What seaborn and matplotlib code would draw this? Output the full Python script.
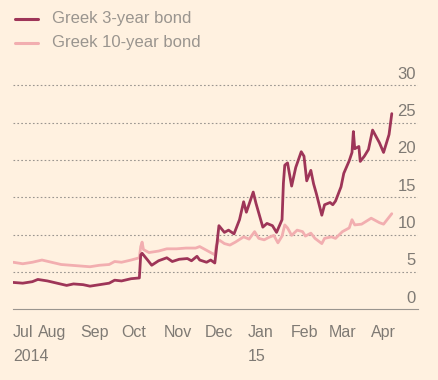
import matplotlib
matplotlib.use("Agg")
import matplotlib.pyplot as plt
import matplotlib.transforms as mtransforms
import pandas as pd
import seaborn as sns

# Greek 3-year bond yield (%)
dates_3y = ["2014-07-14", "2014-07-21", "2014-07-28", "2014-08-01", "2014-08-08", "2014-08-15",
            "2014-08-22", "2014-08-27", "2014-09-03", "2014-09-08", "2014-09-15", "2014-09-22",
            "2014-09-26", "2014-10-01", "2014-10-08", "2014-10-14", "2014-10-15", "2014-10-16",
            "2014-10-20", "2014-10-23", "2014-10-28", "2014-11-03", "2014-11-07", "2014-11-12",
            "2014-11-18", "2014-11-21", "2014-11-25", "2014-11-27", "2014-12-02", "2014-12-05",
            "2014-12-08", "2014-12-09", "2014-12-11", "2014-12-15", "2014-12-18", "2014-12-22",
            "2014-12-26", "2014-12-29", "2014-12-31", "2015-01-05", "2015-01-07", "2015-01-12",
            "2015-01-15", "2015-01-19", "2015-01-22", "2015-01-26", "2015-01-27", "2015-01-28",
            "2015-01-30", "2015-02-02", "2015-02-05", "2015-02-09", "2015-02-11", "2015-02-13",
            "2015-02-16", "2015-02-18", "2015-02-20", "2015-02-24", "2015-02-26", "2015-03-02",
            "2015-03-04", "2015-03-06", "2015-03-10", "2015-03-12", "2015-03-16", "2015-03-18",
            "2015-03-19", "2015-03-20", "2015-03-23", "2015-03-24", "2015-03-27", "2015-03-30",
            "2015-04-02", "2015-04-07", "2015-04-10", "2015-04-14", "2015-04-16"]
yield_3y = [3.6, 3.5, 3.7, 4.0, 3.8, 3.5,
            3.2, 3.4, 3.3, 3.1, 3.3, 3.5,
            3.9, 3.8, 4.1, 4.2, 7.3, 7.5,
            6.6, 5.9, 6.5, 6.9, 6.4, 6.7,
            6.8, 6.5, 7.1, 6.6, 6.3, 6.6,
            6.2, 7.8, 11.2, 10.3, 10.6, 10.1,
            12.0, 14.4, 13.0, 15.7, 14.2, 11.0,
            11.5, 11.2, 10.3, 12.0, 16.9, 19.3,
            19.6, 16.5, 19.0, 21.1, 20.5, 17.2,
            18.6, 16.8, 15.5, 12.6, 14.0, 14.3,
            14.0, 14.5, 16.4, 18.2, 19.9, 21.0,
            23.8, 21.5, 21.8, 19.8, 20.5, 21.4,
            24.0, 22.3, 21.0, 23.4, 26.2]

# Greek 10-year bond yield (%)
dates_10y = ["2014-07-14", "2014-07-21", "2014-07-28", "2014-08-04", "2014-08-11", "2014-08-18",
             "2014-08-25", "2014-09-01", "2014-09-08", "2014-09-15", "2014-09-22", "2014-09-26",
             "2014-10-01", "2014-10-08", "2014-10-14", "2014-10-15", "2014-10-16", "2014-10-17",
             "2014-10-21", "2014-10-28", "2014-11-03", "2014-11-10", "2014-11-17", "2014-11-24",
             "2014-11-27", "2014-12-02", "2014-12-08", "2014-12-09", "2014-12-11", "2014-12-15",
             "2014-12-19", "2014-12-23", "2014-12-29", "2015-01-02", "2015-01-06", "2015-01-09",
             "2015-01-13", "2015-01-16", "2015-01-20", "2015-01-23", "2015-01-26", "2015-01-28",
             "2015-01-30", "2015-02-02", "2015-02-06", "2015-02-10", "2015-02-12", "2015-02-16",
             "2015-02-19", "2015-02-24", "2015-02-26", "2015-03-03", "2015-03-06", "2015-03-11",
             "2015-03-16", "2015-03-18", "2015-03-20", "2015-03-25", "2015-04-01", "2015-04-07",
             "2015-04-10", "2015-04-16"]
yield_10y = [6.3, 6.1, 6.3, 6.6, 6.3, 6.0,
             5.9, 5.8, 5.7, 5.9, 6.0, 6.4,
             6.3, 6.6, 6.9, 8.4, 9.0, 8.0,
             7.6, 7.8, 8.1, 8.1, 8.2, 8.2,
             8.4, 7.9, 7.3, 8.5, 9.3, 8.8,
             8.6, 9.0, 9.7, 9.4, 10.4, 9.5,
             9.3, 9.6, 9.9, 8.9, 9.8, 11.3,
             10.9, 9.9, 10.6, 10.4, 9.8, 10.2,
             9.5, 8.8, 9.5, 9.7, 9.5, 10.4,
             10.9, 12.0, 11.3, 11.4, 12.2, 11.6,
             11.4, 12.8]

tick_dates = ["2014-07-14", "2014-08-01", "2014-09-01", "2014-10-01", "2014-11-01", "2014-12-01",
              "2015-01-01", "2015-02-01", "2015-03-01", "2015-04-01"]
tick_labels = ["Jul", "Aug", "Sep", "Oct", "Nov", "Dec", "Jan", "Feb", "Mar", "Apr"]
year_dates = ["2014-07-14", "2015-01-01"]
year_labels = ["2014", "15"]
y_ticks = [0, 5, 10, 15, 20, 25, 30]

bg = "#fff1e0"
dark = "#9e3558"
light = "#f2aeb0"
grey = "#7f7a74"

df3 = pd.DataFrame({"date": pd.to_datetime(dates_3y), "value": yield_3y})
df10 = pd.DataFrame({"date": pd.to_datetime(dates_10y), "value": yield_10y})

sns.set_style("white")
plt.rcParams["font.family"] = ["Liberation Sans Narrow", "Liberation Sans", "DejaVu Sans"]

fig = plt.figure(figsize=(4.38, 3.8), dpi=100, facecolor=bg)
ax = fig.add_axes([0.030, 0.186, 0.924, 0.629], facecolor=bg)

sns.lineplot(data=df10, x="date", y="value", color=light, linewidth=2, ax=ax)
sns.lineplot(data=df3, x="date", y="value", color=dark, linewidth=2, ax=ax)

ax.set_xlim(pd.Timestamp("2014-07-14"), pd.Timestamp("2015-05-05"))
ax.set_ylim(0, 32)

# dotted gridlines with labels sitting above them
for v in y_ticks[1:]:
    ax.axhline(v, color="#9a958f", linestyle=(0, (1.5, 2)), linewidth=0.8, zorder=0)
trans = mtransforms.blended_transform_factory(ax.transAxes, ax.transData)
for v in y_ticks:
    ax.text(0.995, v + 0.5, str(v), transform=trans, ha="right", va="bottom",
            fontsize=12, color=grey)

ax.set_yticks([])
ax.set_xticks(pd.to_datetime(tick_dates))
ax.set_xticklabels(tick_labels, ha="left", fontsize=11.5, color=grey)
ax.tick_params(axis="x", direction="out", length=5, width=0.8, color="#9a958f", pad=6)
ax.set_xlabel("")
ax.set_ylabel("")

# year line under the month labels
xtrans = mtransforms.blended_transform_factory(ax.transData, ax.transAxes)
for d, lab in zip(pd.to_datetime(year_dates), year_labels):
    ax.text(d, -0.197, lab, transform=xtrans, ha="left", va="center",
            fontsize=11.5, color=grey, clip_on=False)

for s in ["top", "right", "left"]:
    ax.spines[s].set_visible(False)
ax.spines["bottom"].set_color("#9a958f")
ax.spines["bottom"].set_linewidth(0.8)

# legend drawn in figure pixels
fig.lines.append(plt.Line2D([15 / 438, 38 / 438], [1 - 19 / 380, 1 - 19 / 380],
                            color=dark, linewidth=2.2, transform=fig.transFigure))
fig.lines.append(plt.Line2D([15 / 438, 38 / 438], [1 - 43 / 380, 1 - 43 / 380],
                            color=light, linewidth=2.2, transform=fig.transFigure))
fig.text(52 / 438, 1 - 19 / 380, "Greek 3-year bond", va="center", ha="left",
         fontsize=12, color="#9a958f")
fig.text(52 / 438, 1 - 43 / 380, "Greek 10-year bond", va="center", ha="left",
         fontsize=12, color="#9a958f")

fig.savefig("out.png", dpi=100, facecolor=bg)
